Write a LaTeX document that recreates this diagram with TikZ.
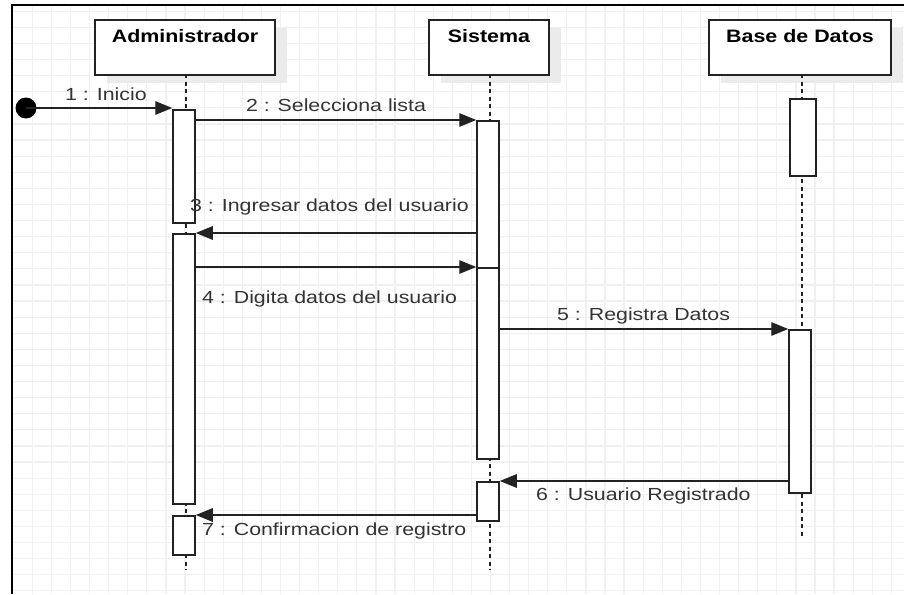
\documentclass[tikz,border=0pt]{standalone}
\usepackage{fontspec}
\setmainfont{Liberation Sans}[FakeStretch=1.22]
\newfontfamily\headfont{Liberation Sans}[FakeStretch=1.19]
\usetikzlibrary{arrows.meta,positioning}
\definecolor{ink}{HTML}{222222}
\definecolor{txt}{HTML}{333333}
\definecolor{gridc}{HTML}{F0F0F0}
\definecolor{shad}{HTML}{EBEBEB}
\tikzset{
  gridline/.style={draw=gridc, line width=1.2pt},
  head/.style={draw=ink, fill=white, line width=1.6pt, minimum width=180pt, minimum height=55pt, anchor=north, inner sep=0pt},
  headtext/.style={font=\headfont\fontsize{18}{20}\selectfont\bfseries, text=black, anchor=base, inner sep=0pt},
  shadowbox/.style={fill=shad, draw=none},
  lifeline/.style={draw=ink, line width=1.3pt, dash pattern=on 4pt off 3.5pt},
  act/.style={draw=ink, fill=white, line width=1.5pt, minimum width=22pt, anchor=north, inner sep=0pt},
  msg/.style={draw=ink, line width=1.3pt, -{Triangle[length=17pt,width=13.5pt]}},
  lbl/.style={font=\fontsize{17.5}{19}\selectfont, text=txt, inner sep=0pt},
  startdot/.style={circle, fill=black, minimum size=21pt, inner sep=0pt},
}
\begin{document}
\begin{tikzpicture}[x=1pt,y=-1pt]
\useasboundingbox (0,0) rectangle (904,594);
\clip (0,0) rectangle (904,594);
% grid
\foreach \i in {0,...,46} \draw[gridline] ({32.3+19.09*\i},5) -- ({32.3+19.09*\i},594);
\foreach \j in {0,...,37} \draw[gridline] (13,{11.2+16.1*\j}) -- (904,{11.2+16.1*\j});
% frame
\draw[black, line width=2pt] (12.3,594) -- (12.3,5) -- (904,5);
% header shadows
\fill[shadowbox] (107,28) rectangle (287,83);
\fill[shadowbox] (441,28) rectangle (561,83);
\fill[shadowbox] (721,28) rectangle (903,83);
% lifelines
\coordinate (admEnd) at (186,570);
\coordinate (sisEnd) at (490,570);
\coordinate (bdEnd) at (802,536);
\draw[lifeline] (186,74) -- (admEnd);
\draw[lifeline] (490,74) -- (sisEnd);
\draw[lifeline] (802,74) -- (bdEnd);
% heads
\node[head] (adm) at (185,19) {};
\node[head, minimum width=120pt] (sis) at (489,19) {};
\node[head, minimum width=182pt] (bd) at (800,19) {};
\node[headtext] (admT) at (185,42.7) {Administrador};
\node[headtext] (sisT) at (489,42.7) {Sistema};
\node[headtext] (bdT) at (800,42.7) {Base de Datos};
% activation bars
\node[act, minimum height=113pt] (a1) at (184,109) {};
\node[act, minimum height=270pt] (a2) at (184,233) {};
\node[act, minimum height=39pt] (a3) at (184,515) {};
\node[act, minimum height=147pt] (s1) at (488,120) {};
\node[act, minimum height=191pt] (s2) at (488,267) {};
\node[act, minimum height=39pt] (s3) at (488,481) {};
\node[act, minimum width=26pt, minimum height=77pt] (d1) at (803,98) {};
\node[act, minimum height=163pt] (d2) at (800,329) {};
% start
\node[startdot] (start) at (26,108) {};
% messages
\draw[msg] (start.center) -- (start.center -| a1.west);
\draw[msg] (a1.east |- s1.north) -- (s1.north west);
\draw[msg] (s1.west |- a2.north) -- (a2.north east);
\draw[msg] (a2.east |- s2.north) -- (s2.north west);
\draw[msg] (s2.east |- d2.north) -- (d2.north west);
\draw[msg] (d2.west |- s3.north) -- (s3.north east);
\draw[msg] (s3.west |- a3.north) -- (a3.north east);
% labels
\node[lbl, anchor=base west] (l1) at (65,100.5) {1 : Inicio};
\node[lbl, anchor=base] (l2) at (336,111.5) {2 : Selecciona lista};
\node[lbl, anchor=base west] (l3) at (190,211.5) {3 : Ingresar datos del usuario};
\node[lbl, anchor=base west] (l4) at (202,303) {4 : Digita datos del usuario};
\node[lbl, anchor=base west] (l5) at (557,320.5) {5 : Registra Datos};
\node[lbl, anchor=base west] (l6) at (536,500.5) {6 : Usuario Registrado};
\node[lbl, anchor=base west] (l7) at (202,535) {7 : Confirmacion de registro};
\end{tikzpicture}
\end{document}
